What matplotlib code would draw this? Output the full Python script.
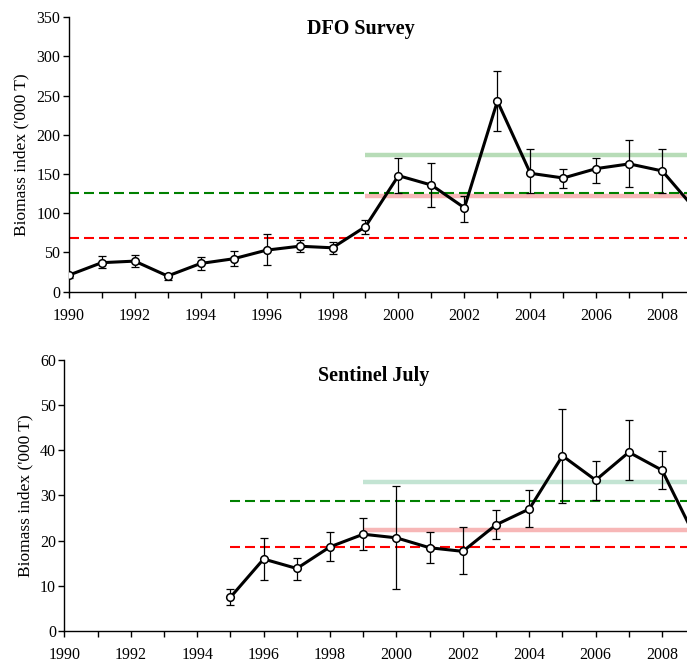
#!/usr/bin/env python3
# -*- coding: utf-8 -*-

import numpy as np
import matplotlib
matplotlib.use("Agg")
import matplotlib.pyplot as plt

plt.rcParams['font.family'] = ['Liberation Serif', 'DejaVu Serif']

# DFO Survey
dfo_years = np.arange(1990, 2010)
dfo_val = [21, 37, 39, 20, 36, 42, 53, 58, 56, 83, 148, 136, 107, 243, 151, 145, 157, 163, 154, 105]
dfo_hi  = [24, 45, 47, 22, 44, 52, 73, 66, 63, 92, 170, 164, 122, 281, 182, 157, 171, 193, 182, 105]
dfo_lo  = [18, 30, 32, 15, 28, 33, 34, 51, 48, 74, 126, 108, 89, 205, 126, 132, 138, 133, 126, 105]
dfo_lines = {"red": 68.5, "green": 126.5, "pink": 122.5, "lgreen": 174}

# Sentinel July
sen_years = np.arange(1995, 2010)
sen_val = [7.4, 15.9, 13.8, 18.6, 21.4, 20.6, 18.4, 17.6, 23.5, 27.0, 38.8, 33.4, 39.6, 35.6, 20.7]
sen_hi  = [9.3, 20.5, 16.2, 21.8, 25.0, 32.0, 22.0, 22.9, 26.8, 31.3, 49.1, 37.7, 46.7, 39.8, 20.7]
sen_lo  = [5.6, 11.2, 11.3, 15.5, 17.9, 9.3, 15.1, 12.6, 20.3, 22.9, 28.4, 29.1, 33.4, 31.4, 20.7]
sen_lines = {"red": 18.6, "green": 28.8, "pink": 22.3, "lgreen": 32.9}

XMAX = 2008.75


def draw_panel(ax, years, val, hi, lo, lines, ymax, ystep, title, title_xy, dash_start, lgreen_col):
    val = np.array(val); hi = np.array(hi); lo = np.array(lo)
    xr = (1990, 2020)
    # reference bands
    ax.plot([1999, xr[1]], [lines["lgreen"]] * 2, color=lgreen_col, lw=3.2, zorder=1, solid_capstyle='butt')
    ax.plot([1999, xr[1]], [lines["pink"]] * 2, color='#f7b7b7', lw=3.2, zorder=1, solid_capstyle='butt')
    ax.plot([dash_start, xr[1]], [lines["green"]] * 2, color='#008000', lw=1.5, ls=(0, (4.8, 2.4)), zorder=2)
    ax.plot([dash_start, xr[1]], [lines["red"]] * 2, color='#ff0000', lw=1.5, ls=(0, (4.8, 2.4)), zorder=2)
    ax.errorbar(years, val, yerr=[val - lo, hi - val], fmt='none', ecolor='black',
                elinewidth=0.9, capsize=3, capthick=0.9, zorder=3)
    ax.plot(years, val, color='black', lw=2.2, zorder=4)
    inside = years <= XMAX
    ax.plot(years[inside], val[inside], ls='none', marker='o', ms=5.5,
            mfc='white', mec='black', mew=1.1, zorder=5)

    ax.set_xlim(1990, XMAX)
    ax.set_ylim(0, ymax)
    ax.set_xticks(np.arange(1990, 2009))
    ax.set_xticklabels([str(y) if y % 2 == 0 else "" for y in range(1990, 2009)])
    ax.set_yticks(np.arange(0, ymax + 1, ystep))
    ax.tick_params(axis='both', direction='out', length=4, width=1, labelsize=11.5)
    ax.tick_params(axis='x', pad=8)
    ax.tick_params(axis='y', pad=2)
    for s in ['top', 'right']:
        ax.spines[s].set_visible(False)
    ax.spines['left'].set_linewidth(1)
    ax.spines['bottom'].set_linewidth(1)
    ax.set_ylabel("Biomass index ('000 T)", fontsize=12.5, labelpad=5)
    ax.text(title_xy[0], title_xy[1], title, ha='center', va='center',
            fontsize=14.5, fontweight='bold')


fig = plt.figure(figsize=(6.87, 6.64), dpi=100)
ax1 = fig.add_axes([0.100, 0.5607, 0.900, 0.4133])
ax2 = fig.add_axes([0.0937, 0.0502, 0.9063, 0.4072])

draw_panel(ax1, dfo_years, dfo_val, dfo_hi, dfo_lo, dfo_lines, 350, 50,
           "DFO Survey", (1998.85, 335), 1990, '#b7dcb7')
draw_panel(ax2, sen_years, sen_val, sen_hi, sen_lo, sen_lines, 60, 10,
           "Sentinel July", (1999.3, 56.6), 1995, '#c3e4d3')

fig.savefig("out.png", dpi=100)
